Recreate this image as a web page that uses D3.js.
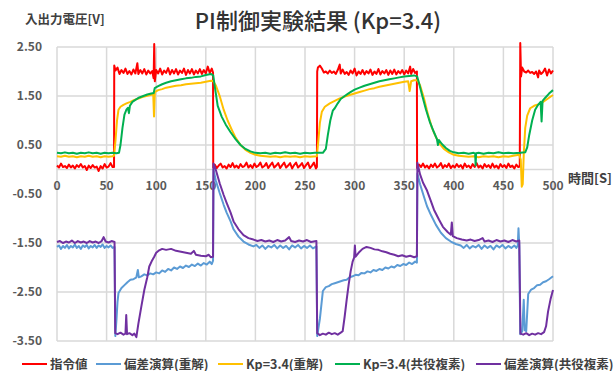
<!DOCTYPE html>
<html lang="ja">
<head>
<meta charset="UTF-8" />
<title>PI制御実験結果</title>
<script src="https://d3js.org/d3.v7.min.js"></script>
<style>
  body { margin: 0; background: #fff; }
  svg { display: block; font-family: "Noto Sans CJK JP", "Noto Sans", sans-serif; }
  .tick-label { font-size: 12px; font-weight: bold; fill: #595959; }
  .legend-text { font-size: 12.5px; font-weight: bold; fill: #404040; }
</style>
</head>
<body>
<svg width="616" height="371"></svg>
<script>
// 目盛り
const xTicks = [0, 50, 100, 150, 200, 250, 300, 350, 400, 450, 500];
const yTicks = [2.5, 1.5, 0.5, -0.5, -1.5, -2.5, -3.5];
const yGrid = [2.5, 1.5, 0.5, -1.5, -2.5, -3.5];

const seriesNames = ["指令値", "偏差演算(重解)", "Kp=3.4(重解)", "Kp=3.4(共役複素)", "偏差演算(共役複素)"];
const seriesColors = ["#ff0000", "#5b9bd5", "#ffc000", "#00b050", "#7030a0"];

// [時間, 電圧] 画像から読み取り
const red = [
[0,0.08],[2,0.04],[4,0.12],[6,0.05],[8,0.07],[10,0.03],[12,0.1],[14,0.04],[16,0.08],[18,0.02],[20,0.09],[22,0.05],[24,0.11],[26,0.04],[28,0.07],[30,-0.01],[32,0.08],[34,0.03],[36,0.09],[38,0.04],[40,0.06],[42,-0.03],[44,0.07],[46,0.02],[48,0.11],[50,0.04],[52,0.06],[54,0.13],[56,0.05],[57.5,0.05],
[57.7,2.12],[59,2.02],[61,2.08],[63,1.95],[65,2.03],[67,1.97],[69,2.06],[71,1.95],[73,2.01],[75,1.94],[77,2.04],[79,1.96],[81,2.17],[82,1.95],[84,2.03],[86,1.96],[88,2.05],[90,1.94],[92,2.02],[94,1.96],[96,2.01],[97.4,1.86],[98,2.56],[98.6,1.8],[100,2.03],[102,1.96],[104,2.06],[106,1.94],[108,2.02],[110,1.97],[112,2.07],[114,1.94],[116,2.03],[118,1.96],[120,2.05],[122,1.94],[124,2.02],[126,1.97],[128,2.06],[130,1.93],[132,2.03],[134,1.96],[136,2.05],[138,1.94],[140,2.02],[142,1.96],[144,2.05],[146,1.95],[148,2.03],[150,1.96],[152,2.1],[154,1.97],[156,2.06],[157.3,1.98],
[157.5,0.04],[159,0.1],[161,0.03],[163,0.08],[165,0.12],[167,0.04],[169,0.07],[171,0.02],[173,0.1],[175,0.05],[177,0.13],[179,0.04],[181,0.08],[183,0.03],[185,0.11],[187,0.05],[189,0.07],[191,0.14],[193,0.04],[195,0.09],[197,0.03],[199,0.12],[201,0.05],[203,0.08],[205,0.14],[207,0.04],[209,0.07],[211,0.13],[213,0.03],[215,0.09],[217,0.14],[219,0.04],[221,0.08],[223,0.13],[225,0.03],[227,0.09],[229,0.14],[231,0.04],[233,0.08],[235,0.13],[237,0.02],[239,0.09],[241,0.14],[243,0.04],[245,0.08],[247,0.13],[249,0.03],[251,0.09],[253,0.14],[255,0.03],[257,0.08],[259,0.14],[261,0.02],[262,0.05],
[262.3,2.0],[263,2.08],[265,2.12],[267,2.06],[269,1.98],[271,2.0],[273,1.96],[275,2.02],[277,1.97],[279,2.0],[281,1.95],[283,2.03],[285,2.14],[286,1.96],[288,2.04],[290,1.95],[292,1.99],[294,1.93],[296,2.02],[298,1.96],[300,2.06],[302,1.92],[304,2.0],[306,1.95],[308,2.03],[310,1.94],[312,2.01],[314,1.96],[316,2.04],[318,1.93],[320,2.0],[322,1.95],[324,2.05],[326,1.94],[328,2.01],[330,1.96],[332,2.03],[334,1.93],[336,2.02],[338,1.95],[340,2.04],[342,1.94],[344,2.01],[346,1.96],[348,2.03],[350,1.94],[352,2.02],[354,1.96],[356,2.1],[357,1.95],[359,2.05],[361,1.97],[362.8,2.0],
[363,0.03],[365,0.1],[367,0.05],[369,0.12],[371,0.04],[373,0.08],[375,0.02],[377,0.1],[379,0.05],[381,0.12],[383,0.04],[385,0.07],[387,0.13],[389,0.03],[391,0.09],[393,0.05],[395,0.12],[397,0.03],[399,0.08],[401,0.04],[403,0.11],[405,0.05],[407,0.09],[409,0.02],[411,0.12],[413,0.05],[415,0.08],[417,0.03],[419,0.11],[421,0.05],[423,0.13],[425,0.04],[427,0.08],[429,0.02],[431,0.11],[433,0.05],[435,0.09],[437,0.03],[439,0.12],[441,0.04],[443,0.08],[445,0.02],[447,0.11],[449,0.05],[451,0.09],[453,0.03],[455,0.12],[457,0.05],[459,0.08],[461,0.02],[463,0.1],[465,0.05],[466.5,0.06],
[467,2.58],[467.8,1.9],[469,2.08],[471,2.0],[473,1.98],[475,2.02],[477,1.97],[479,1.99],[481,1.95],[483,2.0],[485,1.88],[486,2.02],[488,1.95],[490,1.99],[492,2.06],[494,1.92],[496,2.04],[498,1.96],[500,2.02]
];

const blue = [
[0,-1.58],[2,-1.55],[4,-1.62],[6,-1.56],[8,-1.6],[10,-1.54],[12,-1.61],[14,-1.56],[16,-1.59],[18,-1.53],[20,-1.6],[22,-1.56],[24,-1.62],[26,-1.55],[28,-1.58],[30,-1.54],[32,-1.61],[34,-1.56],[36,-1.59],[38,-1.54],[40,-1.6],[42,-1.55],[44,-1.58],[46,-1.53],[48,-1.6],[50,-1.56],[52,-1.59],[54,-1.55],[56,-1.6],[58,-1.58],
[58.8,-3.4],[60,-3.05],[61,-2.7],[62,-2.52],[65,-2.42],[68,-2.36],[71,-2.3],[74,-2.25],[77,-2.24],[80,-2.2],[81.5,-2.05],[82.5,-2.2],[85,-2.18],[88,-2.14],[91,-2.16],[94,-2.12],[97,-2.14],[100,-2.1],[103,-2.12],[106,-2.06],[109,-2.09],[112,-2.03],[115,-2.06],[118,-2.0],[121,-2.03],[124,-1.98],[127,-2.01],[130,-1.96],[133,-1.99],[136,-1.94],[139,-1.97],[142,-1.92],[145,-1.96],[148,-1.91],[151,-1.94],[154,-1.88],[156,-1.93],[157.3,-1.86],
[157.8,0.0],[160,-0.22],[164,-0.48],[168,-0.72],[171,-0.88],[175,-1.06],[178,-1.22],[183,-1.37],[188,-1.47],[193,-1.53],[198,-1.57],[201,-1.54],[204,-1.6],[207,-1.55],[210,-1.62],[213,-1.56],[216,-1.59],[219,-1.54],[222,-1.61],[225,-1.55],[228,-1.6],[231,-1.56],[234,-1.63],[237,-1.55],[240,-1.59],[243,-1.54],[246,-1.61],[249,-1.56],[252,-1.6],[255,-1.55],[258,-1.61],[261.5,-1.57],
[262.3,-3.4],[265,-3.05],[268,-2.48],[271,-2.4],[274,-2.38],[277,-2.34],[280,-2.32],[283,-2.3],[286,-2.28],[289,-2.26],[292,-2.25],[295,-2.2],[298,-2.18],[301,-2.15],[304,-2.16],[307,-2.11],[310,-2.12],[313,-2.08],[316,-2.1],[319,-2.05],[322,-2.07],[325,-2.03],[328,-2.05],[331,-2.0],[334,-2.02],[337,-1.98],[340,-2.0],[343,-1.95],[346,-1.97],[349,-1.93],[352,-1.95],[355,-1.9],[358,-1.93],[361,-1.88],[362.8,-1.9],
[363.3,-0.08],[366,-0.3],[370,-0.56],[373,-0.75],[377,-0.93],[382,-1.13],[387,-1.29],[392,-1.4],[397,-1.47],[402,-1.52],[407,-1.55],[410,-1.6],[413,-1.54],[416,-1.61],[419,-1.56],[422,-1.59],[425,-1.54],[428,-1.62],[431,-1.55],[434,-1.6],[437,-1.56],[440,-1.63],[443,-1.55],[446,-1.59],[449,-1.54],[452,-1.61],[455,-1.56],[458,-1.6],[461,-1.55],[463,-1.6],[464.5,-1.55],[465.2,-1.2],[466,-1.56],
[467,-3.36],[469,-3.3],[470.5,-2.66],[471.5,-3.28],[473,-3.3],[475,-2.54],[478,-2.45],[481,-2.42],[484,-2.36],[487,-2.35],[490,-2.3],[493,-2.28],[496,-2.24],[500,-2.18]
];

const orange = [
[0,0.27],[4,0.26],[8,0.28],[12,0.26],[16,0.27],[20,0.25],[24,0.27],[28,0.26],[32,0.28],[36,0.26],[40,0.27],[44,0.25],[48,0.27],[52,0.26],[56,0.27],[57.5,0.28],
[59,0.6],[60.5,1.0],[62,1.22],[64,1.28],[67,1.32],[70,1.35],[74,1.38],[78,1.42],[82,1.45],[86,1.48],[90,1.5],[94,1.52],[97,1.54],[97.8,1.08],[98.6,1.58],[102,1.62],[106,1.64],[110,1.67],[115,1.69],[120,1.71],[125,1.72],[130,1.74],[135,1.75],[140,1.76],[145,1.77],[150,1.79],[155,1.81],[157.5,1.8],
[160,1.72],[164,1.5],[168,1.22],[172,1.0],[176,0.82],[180,0.65],[185,0.5],[190,0.4],[195,0.34],[200,0.3],[205,0.28],[210,0.27],[215,0.26],[220,0.27],[225,0.25],[230,0.27],[235,0.26],[240,0.27],[245,0.25],[250,0.27],[255,0.26],[262,0.27],
[263.5,0.6],[265,0.95],[267,1.18],[270,1.28],[275,1.35],[280,1.4],[285,1.45],[290,1.49],[295,1.52],[300,1.55],[305,1.58],[310,1.61],[315,1.64],[320,1.66],[325,1.69],[330,1.71],[335,1.73],[340,1.75],[345,1.77],[350,1.79],[354,1.8],[355.5,1.6],[357,1.8],[360,1.82],[363,1.82],
[366,1.72],[370,1.45],[374,1.12],[378,0.85],[382,0.66],[386,0.52],[390,0.42],[395,0.35],[400,0.3],[405,0.28],[410,0.27],[415,0.26],[420,0.27],[425,0.25],[430,0.27],[435,0.26],[440,0.27],[445,0.25],[450,0.27],[455,0.26],[460,0.28],[466,0.3],
[467.5,0.2],[468.5,-0.35],[469.5,-0.3],[470.5,0.3],[472,0.85],[474,1.1],[477,1.25],[481,1.3],[485,1.33],[490,1.38],[495,1.45],[500,1.52]
];

const green = [
[0,0.34],[4,0.33],[8,0.35],[12,0.33],[16,0.34],[20,0.32],[24,0.34],[28,0.33],[32,0.35],[36,0.33],[40,0.34],[44,0.32],[48,0.34],[52,0.33],[56,0.34],[60,0.33],[62.5,0.34],
[64,0.5],[66,0.85],[68,1.12],[70,1.22],[71.5,1.26],[72.5,1.15],[73.5,1.3],[76,1.38],[79,1.42],[83,1.47],[87,1.5],[91,1.53],[95,1.55],[97.5,1.56],[98.5,1.66],[102,1.7],[106,1.74],[110,1.77],[115,1.8],[120,1.82],[125,1.84],[130,1.86],[135,1.87],[140,1.89],[145,1.9],[150,1.93],[155,1.95],[157.5,1.92],
[159,1.7],[162,1.3],[166,1.08],[170,0.92],[175,0.76],[180,0.62],[185,0.5],[190,0.42],[195,0.37],[200,0.34],[205,0.33],[210,0.34],[215,0.32],[220,0.34],[225,0.33],[230,0.35],[235,0.33],[240,0.34],[245,0.32],[250,0.34],[255,0.33],[260,0.34],[268,0.34],
[271,0.42],[273,0.7],[275.5,1.0],[278,1.2],[280,1.25],[283,1.35],[286,1.44],[290,1.5],[295,1.57],[300,1.63],[305,1.67],[310,1.71],[315,1.74],[320,1.77],[325,1.8],[330,1.82],[335,1.84],[340,1.86],[345,1.88],[350,1.9],[355,1.91],[360,1.92],[363,1.9],
[365,1.76],[368,1.52],[372,1.22],[376,0.96],[380,0.76],[383,0.62],[384,0.5],[385,0.6],[388,0.52],[392,0.44],[396,0.38],[400,0.35],[405,0.33],[410,0.34],[415,0.32],[420,0.34],[421.5,0.33],[422,0.08],[422.5,0.33],[425,0.34],[430,0.32],[435,0.34],[440,0.33],[445,0.35],[450,0.33],[455,0.34],[460,0.33],[467,0.34],[472,0.35],
[474,0.45],[476,0.7],[479,1.0],[482,1.22],[485,1.32],[487.5,1.38],[488.5,0.98],[489.5,1.4],[492,1.46],[496,1.55],[500,1.62]
];

const purple = [
[0,-1.48],[3,-1.46],[6,-1.5],[9,-1.47],[12,-1.49],[15,-1.45],[18,-1.5],[21,-1.46],[24,-1.49],[27,-1.47],[30,-1.5],[33,-1.46],[36,-1.49],[39,-1.47],[42,-1.5],[45,-1.46],[47,-1.38],[49,-1.47],[52,-1.49],[55,-1.46],[58,-1.48],
[58.7,-3.34],[61,-3.36],[64,-3.33],[67,-3.37],[69,-3.35],[69.8,-2.97],[70.6,-3.36],[73,-3.34],[76,-3.38],[78,-3.35],[80,-3.42],[82,-3.15],[85,-2.8],[88,-2.46],[91,-2.2],[93,-1.98],[96,-1.85],[98,-1.78],[100,-1.7],[103,-1.65],[106,-1.62],[110,-1.64],[115,-1.62],[120,-1.66],[125,-1.68],[130,-1.7],[135,-1.72],[138,-1.66],[140,-1.74],[145,-1.76],[150,-1.77],[153,-1.74],[155,-1.79],[157.3,-1.78],
[157.7,0.12],[160,0.0],[164,-0.28],[168,-0.52],[171,-0.68],[175,-0.88],[178,-1.06],[183,-1.22],[188,-1.34],[193,-1.4],[198,-1.43],[202,-1.46],[206,-1.44],[210,-1.47],[214,-1.45],[218,-1.48],[222,-1.44],[226,-1.47],[230,-1.45],[234,-1.38],[236,-1.46],[240,-1.48],[244,-1.45],[248,-1.47],[252,-1.44],[256,-1.48],[261.5,-1.46],
[262.3,-3.34],[265,-3.38],[268,-3.35],[271,-3.37],[274,-3.33],[277,-3.36],[280,-3.34],[283,-3.37],[286,-3.33],[288,-3.3],[290,-3.0],[292,-2.66],[294,-2.35],[296,-2.08],[298,-1.88],[299.5,-1.8],[300.3,-1.55],[301,-1.78],[304,-1.7],[308,-1.62],[312,-1.58],[316,-1.6],[320,-1.63],[324,-1.64],[328,-1.67],[332,-1.69],[336,-1.72],[340,-1.74],[344,-1.77],[348,-1.75],[352,-1.78],[356,-1.76],[360,-1.79],[362.8,-1.77],
[363.3,0.14],[366,-0.1],[369,-0.27],[373,-0.43],[377,-0.65],[380,-0.82],[385,-1.02],[389,-1.17],[394,-1.28],[397,-1.33],[398,-1.08],[399,-1.36],[403,-1.4],[408,-1.43],[413,-1.45],[417,-1.43],[421,-1.46],[425,-1.44],[429,-1.4],[431,-1.47],[435,-1.45],[439,-1.48],[443,-1.44],[447,-1.47],[451,-1.45],[455,-1.48],[459,-1.44],[463,-1.47],[466,-1.45],
[467.2,-3.35],[470,-3.37],[473,-3.34],[476,-3.38],[479,-3.35],[482,-3.37],[485,-3.34],[488,-3.36],[491,-3.32],[493,-3.2],[495,-2.9],[497.5,-2.65],[500,-2.46]
];

const allSeries = [red, blue, orange, green, purple];

const svg = d3.select("svg");
const plot = { left: 57, right: 553, top: 47, bottom: 341 };

const x = d3.scaleLinear().domain([0, 500]).range([plot.left, plot.right]);
const y = d3.scaleLinear().domain([-3.5, 2.5]).range([plot.bottom, plot.top]);

svg.append("rect").attr("width", 616).attr("height", 371).attr("fill", "#fff");

// グリッド
svg.append("g").selectAll("line").data(xTicks).join("line")
  .attr("x1", d => x(d)).attr("x2", d => x(d))
  .attr("y1", plot.top).attr("y2", plot.bottom)
  .attr("stroke", "#d9d9d9").attr("stroke-width", 1.5);
svg.append("g").selectAll("line").data(yGrid).join("line")
  .attr("x1", plot.left).attr("x2", plot.right)
  .attr("y1", d => y(d)).attr("y2", d => y(d))
  .attr("stroke", "#d9d9d9").attr("stroke-width", 1.5);
// 横軸 (0V)
svg.append("line")
  .attr("x1", plot.left).attr("x2", plot.right)
  .attr("y1", y(0)).attr("y2", y(0))
  .attr("stroke", "#d9d9d9").attr("stroke-width", 1.5);

// 縦軸ラベル
svg.append("g").selectAll("text").data(yTicks).join("text")
  .attr("class", "tick-label")
  .attr("x", 42).attr("y", d => y(d)).attr("dy", "0.35em")
  .attr("text-anchor", "end")
  .text(d => d.toFixed(2));

// 横軸ラベル (0V の線の下)
svg.append("g").selectAll("text").data(xTicks).join("text")
  .attr("class", "tick-label")
  .attr("x", d => x(d)).attr("y", y(0) + 20)
  .attr("text-anchor", "middle")
  .text(d => d);

svg.append("text")
  .attr("x", 568).attr("y", y(0) + 13)
  .attr("font-size", 13).attr("font-weight", "bold").attr("fill", "#404040")
  .text("時間[S]");

svg.append("text")
  .attr("x", 25).attr("y", 24)
  .attr("font-size", 12.5).attr("font-weight", "bold").attr("fill", "#404040")
  .text("入出力電圧[V]");

svg.append("text")
  .attr("x", 318).attr("y", 29)
  .attr("text-anchor", "middle")
  .attr("font-size", 22).attr("font-weight", 500).attr("fill", "#333")
  .text("PI制御実験結果 (Kp=3.4)");

// 系列
const line = d3.line().x(d => x(d[0])).y(d => y(d[1]));
svg.append("g").selectAll("path").data(allSeries).join("path")
  .attr("d", line)
  .attr("fill", "none")
  .attr("stroke", (d, i) => seriesColors[i])
  .attr("stroke-width", 2)
  .attr("stroke-linejoin", "round");

// 凡例
const legendX = [22, 96, 218, 335, 476];
const legendY = 364;
const lg = svg.append("g").selectAll("g").data(seriesNames).join("g")
  .attr("transform", (d, i) => `translate(${legendX[i]},${legendY})`);
lg.append("line")
  .attr("x1", 0).attr("x2", 25).attr("y1", 0).attr("y2", 0)
  .attr("stroke", (d, i) => seriesColors[i]).attr("stroke-width", 2);
lg.append("text")
  .attr("class", "legend-text")
  .attr("x", 28).attr("dy", "0.36em")
  .text(d => d);
</script>
</body>
</html>
